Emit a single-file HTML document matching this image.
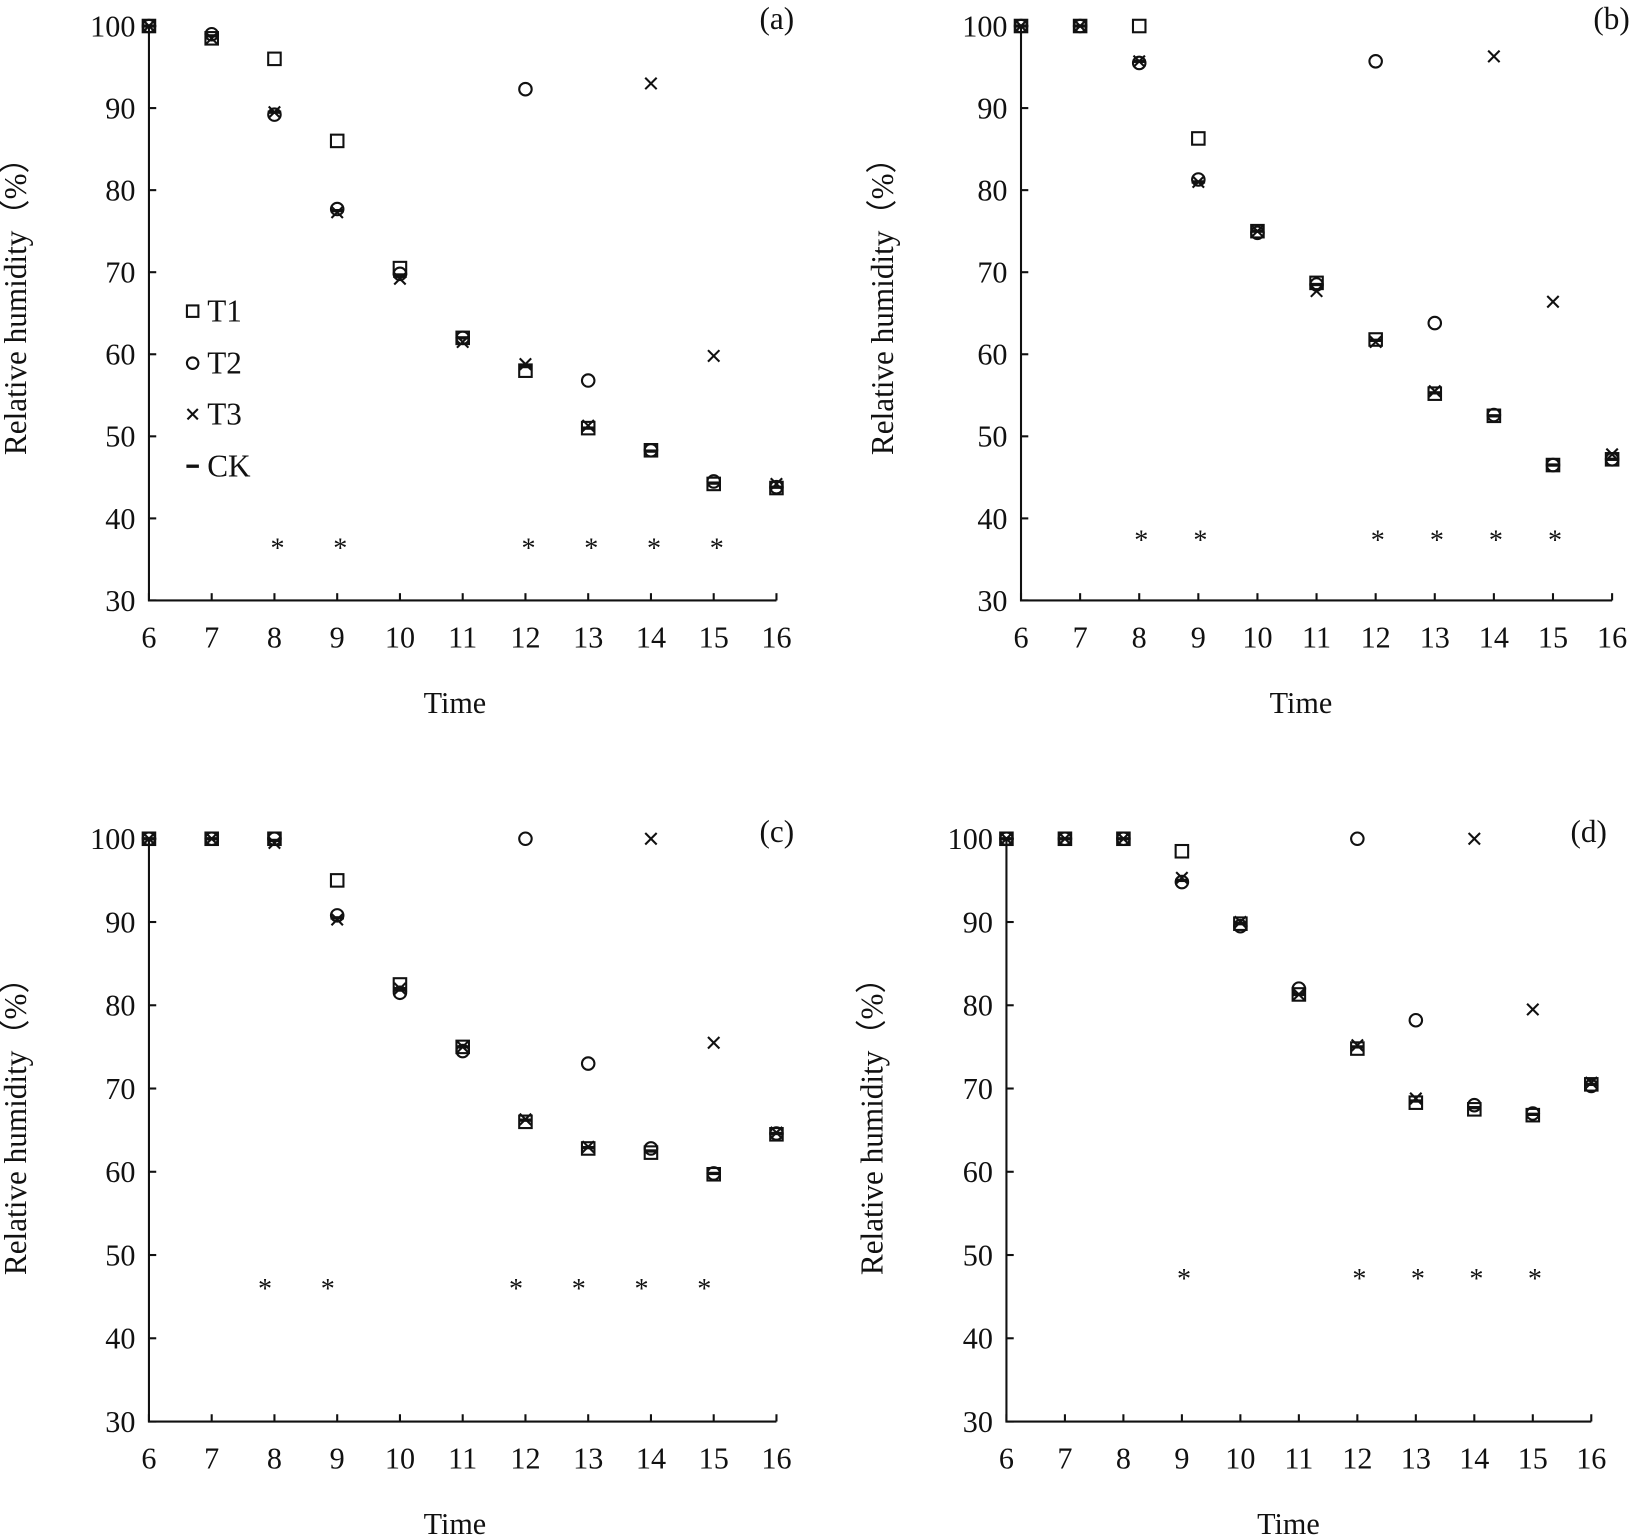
<!DOCTYPE html>
<html><head><meta charset="utf-8"><style>
html,body{margin:0;padding:0;background:#fff;}
svg{display:block;}
text{font-family:"Liberation Serif",serif;fill:#111;}
</style></head><body>
<svg id="s" width="1632" height="1536" viewBox="0 0 1568 1476" xmlns="http://www.w3.org/2000/svg"></svg>
<script>
const S=document.getElementById('s');let h='';
const panels=[
{x0:143,x1:746,y0:25,y1:577,lab:'(a)',lx:763,ly:28,ylx:25,ylc:287,tx:437,
T1:[100,98.5,96,86,70.5,62,58,51,48.3,44.2,43.7],
T2:[100,99,89.2,77.7,69.8,62,92.3,56.8,48.3,44.5,43.8],
T3:[100,98.5,89.5,77.3,69.2,61.5,58.8,51.3,93,59.8,44.2],
CK:[100,98.8,89.5,77.5,69.5,62,58.5,51,48.2,44.3,43.8],
st:[8,9,12,13,14,15],sv:37,sdx:3,legend:true},
{x0:981,x1:1549,y0:25,y1:577,lab:'(b)',lx:1566,ly:28,ylx:858,ylc:287,tx:1250,
T1:[100,100,100,86.3,75,68.7,61.8,55.2,52.5,46.5,47.2],
T2:[100,100,95.5,81.3,74.8,68.5,95.7,63.8,52.6,46.5,47.2],
T3:[100,100,95.7,81,75,67.7,61.5,55.5,96.3,66.4,47.8],
CK:[100,100,95.7,81,75,68.5,61.7,55.3,52.5,46.5,47.2],
st:[8,9,12,13,14,15],sv:38,sdx:2},
{x0:143,x1:746,y0:806,y1:1366,lab:'(c)',lx:763,ly:809,ylx:25,ylc:1075,tx:437,
T1:[100,100,100,95,82.5,75,66,62.8,62.3,59.7,64.5],
T2:[100,100,100,90.8,81.5,74.5,100,73,62.8,59.8,64.6],
T3:[100,100,99.5,90.3,82,75,66.3,63,100,75.5,64.7],
CK:[100,100,99.8,90.5,82,75,66.2,62.9,62.5,59.8,64.6],
st:[8,9,12,13,14,15],sv:46.6,sdx:-9},
{x0:967,x1:1529,y0:806,y1:1366,lab:'(d)',lx:1544,ly:809,ylx:848,ylc:1075,tx:1238,
T1:[100,100,100,98.5,89.8,81.3,74.8,68.3,67.5,66.8,70.5],
T2:[100,100,100,94.8,89.5,82,100,78.2,68,67,70.3],
T3:[100,100,100,95.3,90,81.3,75.2,68.8,100,79.5,70.7],
CK:[100,100,100,95,89.8,81.3,75,68.5,67.7,66.9,70.5],
st:[9,12,13,14,15],sv:47.8,sdx:2}];
function sq(x,y,s){return `<rect x="${x-s/2}" y="${y-s/2}" width="${s}" height="${s}" fill="none" stroke="#111" stroke-width="2"/>`;}
function ci(x,y,r){return `<circle cx="${x}" cy="${y}" r="${r}" fill="none" stroke="#111" stroke-width="2"/>`;}
function cr(x,y,s){return `<path d="M${x-s} ${y-s}L${x+s} ${y+s}M${x-s} ${y+s}L${x+s} ${y-s}" stroke="#111" stroke-width="2"/>`;}
function ck(x,y,w){return `<rect x="${x-w/2}" y="${y-1.6}" width="${w}" height="3.2" fill="#111"/>`;}
for(const p of panels){
 const X=t=>p.x0+(t-6)*(p.x1-p.x0)/10, Y=v=>p.y1-(v-30)*(p.y1-p.y0)/70;
 h+=`<path d="M${p.x0} ${p.y0}V${p.y1}H${p.x1}" fill="none" stroke="#111" stroke-width="2"/>`;
 for(let t=6;t<=16;t++){h+=`<path d="M${X(t)} ${p.y1}v-7" stroke="#111" stroke-width="2"/>`;
  h+=`<text x="${X(t)}" y="${p.y1+45}" font-size="29" text-anchor="middle">${t}</text>`;}
 for(let v=30;v<=100;v+=10){h+=`<path d="M${p.x0} ${Y(v)}h7" stroke="#111" stroke-width="2"/>`;
  h+=`<text x="${p.x0-13}" y="${Y(v)+10}" font-size="29" text-anchor="end">${v}</text>`;}
 h+=`<text x="${p.tx}" y="${p.y1+108}" font-size="29" text-anchor="middle">Time</text>`;
 h+=`<text transform="translate(${p.ylx},${p.ylc}) rotate(-90)" font-size="30" text-anchor="middle">Relative humidity（%）</text>`;
 h+=`<text x="${p.lx}" y="${p.ly}" font-size="30" text-anchor="end">${p.lab}</text>`;
 for(let i=0;i<11;i++){const x=X(6+i);
  h+=ck(x,Y(p.CK[i]),13)+sq(x,Y(p.T1[i]),12)+ci(x,Y(p.T2[i]),6)+cr(x,Y(p.T3[i]),5.5);}
 for(const t of p.st)h+=`<text x="${X(t)+p.sdx}" y="${Y(p.sv)+14}" font-size="27" text-anchor="middle">*</text>`;
 if(p.legend){const L=[['T1',299],['T2',349],['T3',398],['CK',448]];
  h+=sq(185,299,11)+ci(185,349,5.5)+cr(185,398,5)+ck(185,448,12);
  for(const [n,y] of L)h+=`<text x="199" y="${y+10}" font-size="30">${n}</text>`;}
}
S.innerHTML=h;
</script>
</body></html>
